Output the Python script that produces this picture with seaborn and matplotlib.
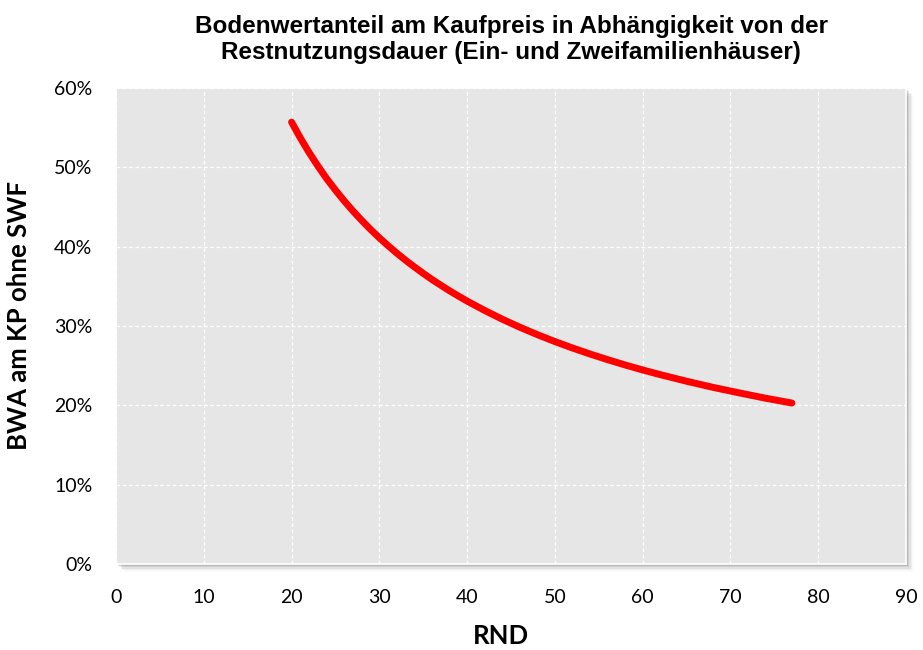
import matplotlib
matplotlib.use("Agg")
import matplotlib.pyplot as plt
import seaborn as sns
import pandas as pd
from matplotlib.patches import Rectangle

# RND (Restnutzungsdauer) vs. Bodenwertanteil in %
rnd = [20, 21, 22, 23, 24, 25, 26, 27, 28, 29, 30, 31, 32, 33, 34, 35, 36, 37,
       38, 39, 40, 42, 44, 46, 48, 50, 52, 54, 56, 58, 60, 62, 65, 68, 71, 74, 77]
bwa = [55.70, 53.70, 51.86, 50.16, 48.57, 47.13, 45.76, 44.49, 43.30, 42.17,
       41.11, 40.12, 39.17, 38.28, 37.44, 36.63, 35.86, 35.14, 34.44, 33.78,
       33.14, 31.96, 30.86, 29.85, 28.91, 28.04, 27.23, 26.47, 25.76, 25.09,
       24.46, 23.87, 23.04, 22.27, 21.57, 20.90, 20.29]
xticks = [0, 10, 20, 30, 40, 50, 60, 70, 80, 90]
yticks = [0, 10, 20, 30, 40, 50, 60]

title = "Bodenwertanteil am Kaufpreis in Abhängigkeit von der\nRestnutzungsdauer (Ein- und Zweifamilienhäuser)"

df = pd.DataFrame({"RND": rnd, "BWA": bwa})

sns.set_style("darkgrid", {"axes.facecolor": "#E6E6E6", "grid.color": "white"})
plt.rcParams['font.family'] = ['Lato', 'DejaVu Sans']
plt.rcParams['text.color'] = 'black'
plt.rcParams['axes.labelcolor'] = 'black'

fig = plt.figure(figsize=(9.23, 6.5), dpi=100)
ax = fig.add_axes([0.1257, 0.1323, 0.8559, 0.7323])

# soft shadow behind plot area
for i, a in enumerate([0.10, 0.08, 0.06, 0.04, 0.02]):
    off = (i + 1) * 1.6
    sh = Rectangle((116 + off, 650 - 564 - off), 790, 476, transform=None,
                   facecolor='black', alpha=a, edgecolor='none', zorder=-1)
    fig.patches.append(sh)

sns.lineplot(data=df, x="RND", y="BWA", color="#FF0000", linewidth=5,
             sort=False, solid_capstyle='round', solid_joinstyle='round', ax=ax)

ax.set_xlim(0, 90)
ax.set_ylim(0, 60)
ax.set_xticks(xticks)
ax.set_yticks(yticks)
ax.set_yticklabels([f"{v}%" for v in yticks])
ax.grid(True, color='white', linestyle=(0, (3, 2)), linewidth=0.9)
for s in ax.spines.values():
    s.set_visible(True)
    s.set_color('white')
    s.set_linewidth(1.2)

ax.tick_params(axis='x', length=5, color='white', pad=13, labelsize=14, labelcolor='black')
ax.tick_params(axis='y', length=0, pad=17, labelsize=14, labelcolor='black')

ax.set_xlabel("RND", fontsize=18.5, fontweight='bold', va='top')
ax.xaxis.set_label_coords(0.487, -0.126)
ax.set_ylabel("BWA am KP ohne SWF", fontsize=18.5, fontweight='bold', va='center')
ax.yaxis.set_label_coords(-0.123, 0.523)

ax.set_title(title, family=['Liberation Sans', 'DejaVu Sans'], fontsize=17.5,
             fontweight='bold', pad=21, linespacing=1.15, color='black')

fig.savefig("out.png", dpi=100)
